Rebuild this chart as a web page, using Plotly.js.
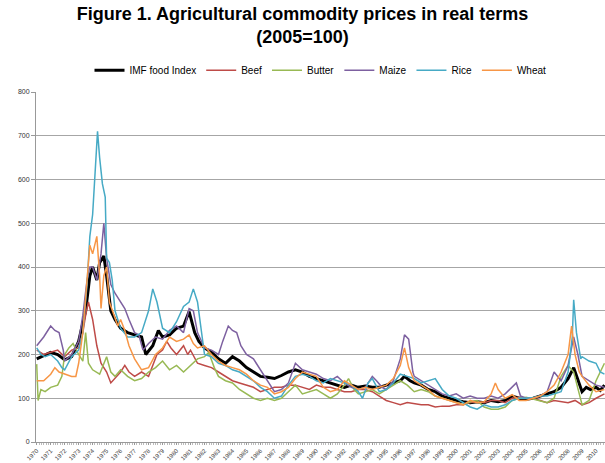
<!DOCTYPE html>
<html><head><meta charset="utf-8">
<script src="https://cdn.plot.ly/plotly-3.0.1.min.js"></script>
<style>html,body{margin:0;padding:0;background:#fff;}#chart{width:605px;height:463px;}</style>
</head><body><div id="chart"></div>
<script>
const seriesNames = ["IMF food Index","Beef","Butter","Maize","Rice","Wheat"];
const seriesColors = ["#000000","#BE4B48","#98B954","#7D60A0","#46AAC5","#F79646"];
const yTicks = [0,100,200,300,400,500,600,700,800];
const years = [];
for (let y = 1970; y <= 2010; y++) years.push(y);

// [decimal year, index value]
const imf = [[1970,190],[1970.5,198],[1971,205],[1971.5,200],[1972,188],[1972.5,195],[1973,230],[1973.5,300],[1973.8,380],[1974,400],[1974.3,370],[1974.5,410],[1974.8,425],[1975,380],[1975.3,300],[1975.6,280],[1976,260],[1976.5,250],[1977,245],[1977.5,240],[1977.8,200],[1978.3,220],[1978.7,255],[1979,240],[1979.5,245],[1980,260],[1980.5,265],[1980.9,298],[1981.3,250],[1981.6,230],[1982,215],[1982.5,205],[1983,190],[1983.5,180],[1984,195],[1984.5,185],[1985,170],[1985.5,160],[1986,150],[1986.5,148],[1987,145],[1987.5,152],[1988,160],[1988.5,165],[1989,160],[1989.5,150],[1990,145],[1990.5,140],[1991,135],[1991.5,130],[1992,125],[1992.5,130],[1993,125],[1993.5,128],[1994,125],[1994.5,125],[1995,130],[1995.5,135],[1996,140],[1996.3,150],[1996.7,140],[1997,135],[1997.5,130],[1998,120],[1998.5,115],[1999,105],[1999.5,100],[2000,95],[2000.5,92],[2001,90],[2001.5,92],[2002,90],[2002.5,95],[2003,92],[2003.5,95],[2004,105],[2004.5,100],[2005,98],[2005.5,100],[2006,105],[2006.5,110],[2007,115],[2007.5,125],[2008,145],[2008.4,170],[2008.8,130],[2009,115],[2009.3,125],[2009.6,120],[2010,125],[2010.3,118],[2010.6,130]];

const beef = [[1970,210],[1970.5,200],[1971,205],[1971.5,210],[1972,195],[1972.5,210],[1973,215],[1973.3,250],[1973.5,290],[1973.7,320],[1974,280],[1974.3,220],[1974.6,180],[1975,160],[1975.3,135],[1975.6,145],[1976,160],[1976.3,175],[1976.6,160],[1977,150],[1977.5,160],[1978,150],[1978.3,175],[1978.6,200],[1979,210],[1979.3,230],[1979.6,215],[1980,200],[1980.5,220],[1980.8,200],[1981,210],[1981.5,180],[1982,175],[1982.5,170],[1983,160],[1983.5,150],[1984,140],[1984.5,135],[1985,130],[1985.5,125],[1986,115],[1986.5,120],[1987,125],[1987.5,125],[1988,130],[1988.5,130],[1989,125],[1989.5,120],[1990,130],[1990.5,125],[1991,125],[1991.5,120],[1992,115],[1992.5,115],[1993,120],[1993.5,120],[1994,115],[1994.5,105],[1995,95],[1995.5,90],[1996,85],[1996.5,90],[1997,88],[1997.5,85],[1998,85],[1998.5,80],[1999,82],[1999.5,82],[2000,85],[2000.5,85],[2001,90],[2001.5,92],[2002,90],[2002.5,95],[2003,95],[2003.5,90],[2004,100],[2004.5,102],[2005,100],[2005.5,100],[2006,95],[2006.5,90],[2007,95],[2007.5,92],[2008,90],[2008.5,95],[2009,85],[2009.5,90],[2010,100],[2010.6,110]];

const butter = [[1970,178],[1970.1,95],[1970.3,120],[1970.6,115],[1971,125],[1971.5,130],[1971.8,150],[1972,200],[1972.3,215],[1972.6,225],[1973,200],[1973.3,185],[1973.5,250],[1973.7,180],[1974,165],[1974.5,155],[1975,195],[1975.3,160],[1975.6,150],[1976,165],[1976.5,150],[1977,140],[1977.5,145],[1978,160],[1978.5,170],[1979,185],[1979.5,165],[1980,175],[1980.5,160],[1981,175],[1981.5,190],[1982,195],[1982.3,205],[1982.7,170],[1983,150],[1983.5,140],[1984,135],[1984.5,120],[1985,110],[1985.5,100],[1986,95],[1986.5,100],[1987,95],[1987.5,100],[1988,115],[1988.5,130],[1989,110],[1989.5,115],[1990,120],[1990.5,110],[1991,100],[1991.5,110],[1992,130],[1992.3,145],[1992.7,120],[1993,110],[1993.5,115],[1994,120],[1994.5,110],[1995,120],[1995.5,130],[1996,140],[1996.5,130],[1997,115],[1997.5,120],[1998,115],[1998.5,105],[1999,100],[1999.5,95],[2000,90],[2000.5,85],[2001,92],[2001.5,95],[2002,80],[2002.5,75],[2003,75],[2003.5,80],[2004,95],[2004.5,100],[2005,102],[2005.5,98],[2006,95],[2006.5,90],[2007,100],[2007.5,150],[2008,175],[2008.4,160],[2008.8,110],[2009,85],[2009.5,95],[2010,140],[2010.6,180]];

const maize = [[1970,220],[1970.5,240],[1971,265],[1971.3,255],[1971.6,250],[1971.9,210],[1972,185],[1972.5,200],[1973,230],[1973.3,290],[1973.6,370],[1973.8,400],[1974,400],[1974.3,370],[1974.6,430],[1974.8,500],[1975,420],[1975.3,360],[1975.6,340],[1976,320],[1976.3,305],[1976.6,280],[1977,250],[1977.3,245],[1977.6,210],[1978,225],[1978.5,240],[1979,235],[1979.5,255],[1980,265],[1980.5,250],[1980.9,305],[1981.2,300],[1981.5,250],[1982,215],[1982.5,210],[1983,200],[1983.3,230],[1983.7,265],[1984,255],[1984.3,250],[1984.6,220],[1985,200],[1985.5,190],[1986,165],[1986.5,140],[1987,115],[1987.5,120],[1988,135],[1988.5,180],[1988.8,170],[1989,165],[1989.5,160],[1990,155],[1990.5,145],[1991,140],[1991.5,150],[1992,135],[1992.5,125],[1993,120],[1993.5,125],[1994,150],[1994.3,140],[1994.7,125],[1995,120],[1995.5,140],[1996,190],[1996.3,245],[1996.6,235],[1996.9,160],[1997,150],[1997.5,140],[1998,130],[1998.5,120],[1999,110],[1999.5,105],[2000,110],[2000.5,100],[2001,105],[2001.5,100],[2002,100],[2002.5,105],[2003,100],[2003.5,110],[2004,125],[2004.3,135],[2004.6,105],[2005,100],[2005.5,100],[2006,105],[2006.5,115],[2007,160],[2007.5,140],[2008,175],[2008.4,240],[2008.7,200],[2009,150],[2009.5,140],[2010,130],[2010.6,125]];

const rice = [[1970,215],[1970.3,200],[1970.6,195],[1971,200],[1971.5,185],[1971.8,170],[1972,165],[1972.5,195],[1973,210],[1973.3,250],[1973.6,360],[1973.8,470],[1974,520],[1974.2,640],[1974.35,710],[1974.5,650],[1974.7,590],[1974.9,560],[1975,420],[1975.2,410],[1975.4,370],[1975.6,300],[1976,260],[1976.5,240],[1977,240],[1977.5,250],[1978,300],[1978.3,350],[1978.6,320],[1979,260],[1979.5,250],[1980,275],[1980.5,310],[1980.9,320],[1981.2,350],[1981.5,320],[1981.8,250],[1982,200],[1982.5,195],[1983,180],[1983.5,175],[1984,165],[1984.5,160],[1985,150],[1985.5,140],[1986,125],[1986.5,115],[1987,100],[1987.5,105],[1988,130],[1988.5,150],[1989,155],[1989.5,150],[1990,140],[1990.5,135],[1991,145],[1991.5,140],[1992,135],[1992.5,130],[1993,115],[1993.3,100],[1993.7,135],[1994,145],[1994.5,115],[1995,120],[1995.5,135],[1996,155],[1996.5,150],[1997,145],[1997.5,135],[1998,140],[1998.5,145],[1999,120],[1999.5,105],[2000,100],[2000.5,90],[2001,80],[2001.5,75],[2002,85],[2002.5,80],[2003,80],[2003.5,85],[2004,95],[2004.5,100],[2005,100],[2005.5,102],[2006,105],[2006.5,105],[2007,110],[2007.5,115],[2008,160],[2008.3,240],[2008.4,325],[2008.6,250],[2008.9,190],[2009,195],[2009.5,185],[2010,180],[2010.3,160],[2010.6,155]];

const wheat = [[1970,140],[1970.5,140],[1971,155],[1971.3,170],[1971.6,160],[1972,155],[1972.5,150],[1972.8,150],[1973,180],[1973.3,250],[1973.6,360],[1973.8,450],[1974,430],[1974.3,470],[1974.5,380],[1974.6,305],[1974.8,380],[1975,400],[1975.2,320],[1975.5,290],[1975.8,265],[1976,280],[1976.3,255],[1976.6,220],[1977,190],[1977.5,165],[1978,170],[1978.5,200],[1979,215],[1979.5,240],[1980,230],[1980.5,235],[1980.9,245],[1981.2,225],[1981.5,215],[1982,220],[1982.5,200],[1983,185],[1983.5,175],[1984,170],[1984.5,165],[1985,155],[1985.5,140],[1986,130],[1986.5,125],[1987,110],[1987.5,115],[1988,125],[1988.5,145],[1989,160],[1989.5,155],[1990,150],[1990.5,125],[1991,115],[1991.5,120],[1992,140],[1992.5,130],[1993,120],[1993.5,125],[1994,120],[1994.5,125],[1995,130],[1995.5,145],[1996,175],[1996.3,215],[1996.6,170],[1997,140],[1997.5,130],[1998,120],[1998.5,105],[1999,100],[1999.5,95],[2000,90],[2000.5,85],[2001,95],[2001.5,90],[2002,92],[2002.5,110],[2002.8,135],[2003,120],[2003.5,100],[2004,108],[2004.5,95],[2005,95],[2005.5,100],[2006,105],[2006.5,115],[2007,130],[2007.5,160],[2008,200],[2008.25,265],[2008.5,200],[2008.8,160],[2009,150],[2009.5,130],[2010,115],[2010.6,120]];

const allSeries = [imf, beef, butter, maize, rice, wheat];
const traces = allSeries.map((s, i) => ({
  type: 'scatter', mode: 'lines', name: seriesNames[i],
  x: s.map(p => p[0]), y: s.map(p => p[1]),
  line: {color: seriesColors[i], width: i === 0 ? 3 : 1.5},
  hoverinfo: 'skip'
}));

const font = "Liberation Sans, Arial, sans-serif";
const layout = {
  width: 605, height: 463,
  margin: {l: 36, r: 0, t: 92, b: 21},
  paper_bgcolor: '#fff', plot_bgcolor: '#fff',
  title: {text: "<b>Figure 1. Agricultural commodity prices in real terms<br>(2005=100)</b>",
    font: {family: "Liberation Sans, Arial, sans-serif", size: 18, color: '#000'},
    x: 0.5, xanchor: 'center', y: 0.957, yanchor: 'top'},
  showlegend: true,
  legend: {orientation: 'h', x: 0.5, xanchor: 'center', y: 1.062, yanchor: 'middle',
    font: {family: font, size: 10, color: '#000'}, itemwidth: 30, bgcolor: 'rgba(0,0,0,0)'},
  xaxis: {range: [1969.95, 2010.64], tickmode: 'array', tickvals: years, ticktext: years.map(String),
    tickangle: -45, tickfont: {family: font, size: 6, color: '#333'},
    showgrid: false, zeroline: false, showline: true, linecolor: '#999', linewidth: 1,
    ticks: 'outside', ticklen: 2, tickcolor: '#999', automargin: false,
    minor: {dtick: 1/6, ticks: 'outside', ticklen: 2, tickcolor: '#bbb', showgrid: false}},
  yaxis: {range: [0, 800], tickmode: 'array', tickvals: yTicks,
    tickfont: {family: font, size: 7, color: '#333'},
    showgrid: true, gridcolor: '#a6a6a6', gridwidth: 1, zeroline: false,
    showline: true, linecolor: '#999', linewidth: 1, ticks: 'outside', ticklen: 4, tickcolor: '#999',
    automargin: false}
};
Plotly.newPlot('chart', traces, layout, {staticPlot: true, displayModeBar: false});
</script></body></html>
